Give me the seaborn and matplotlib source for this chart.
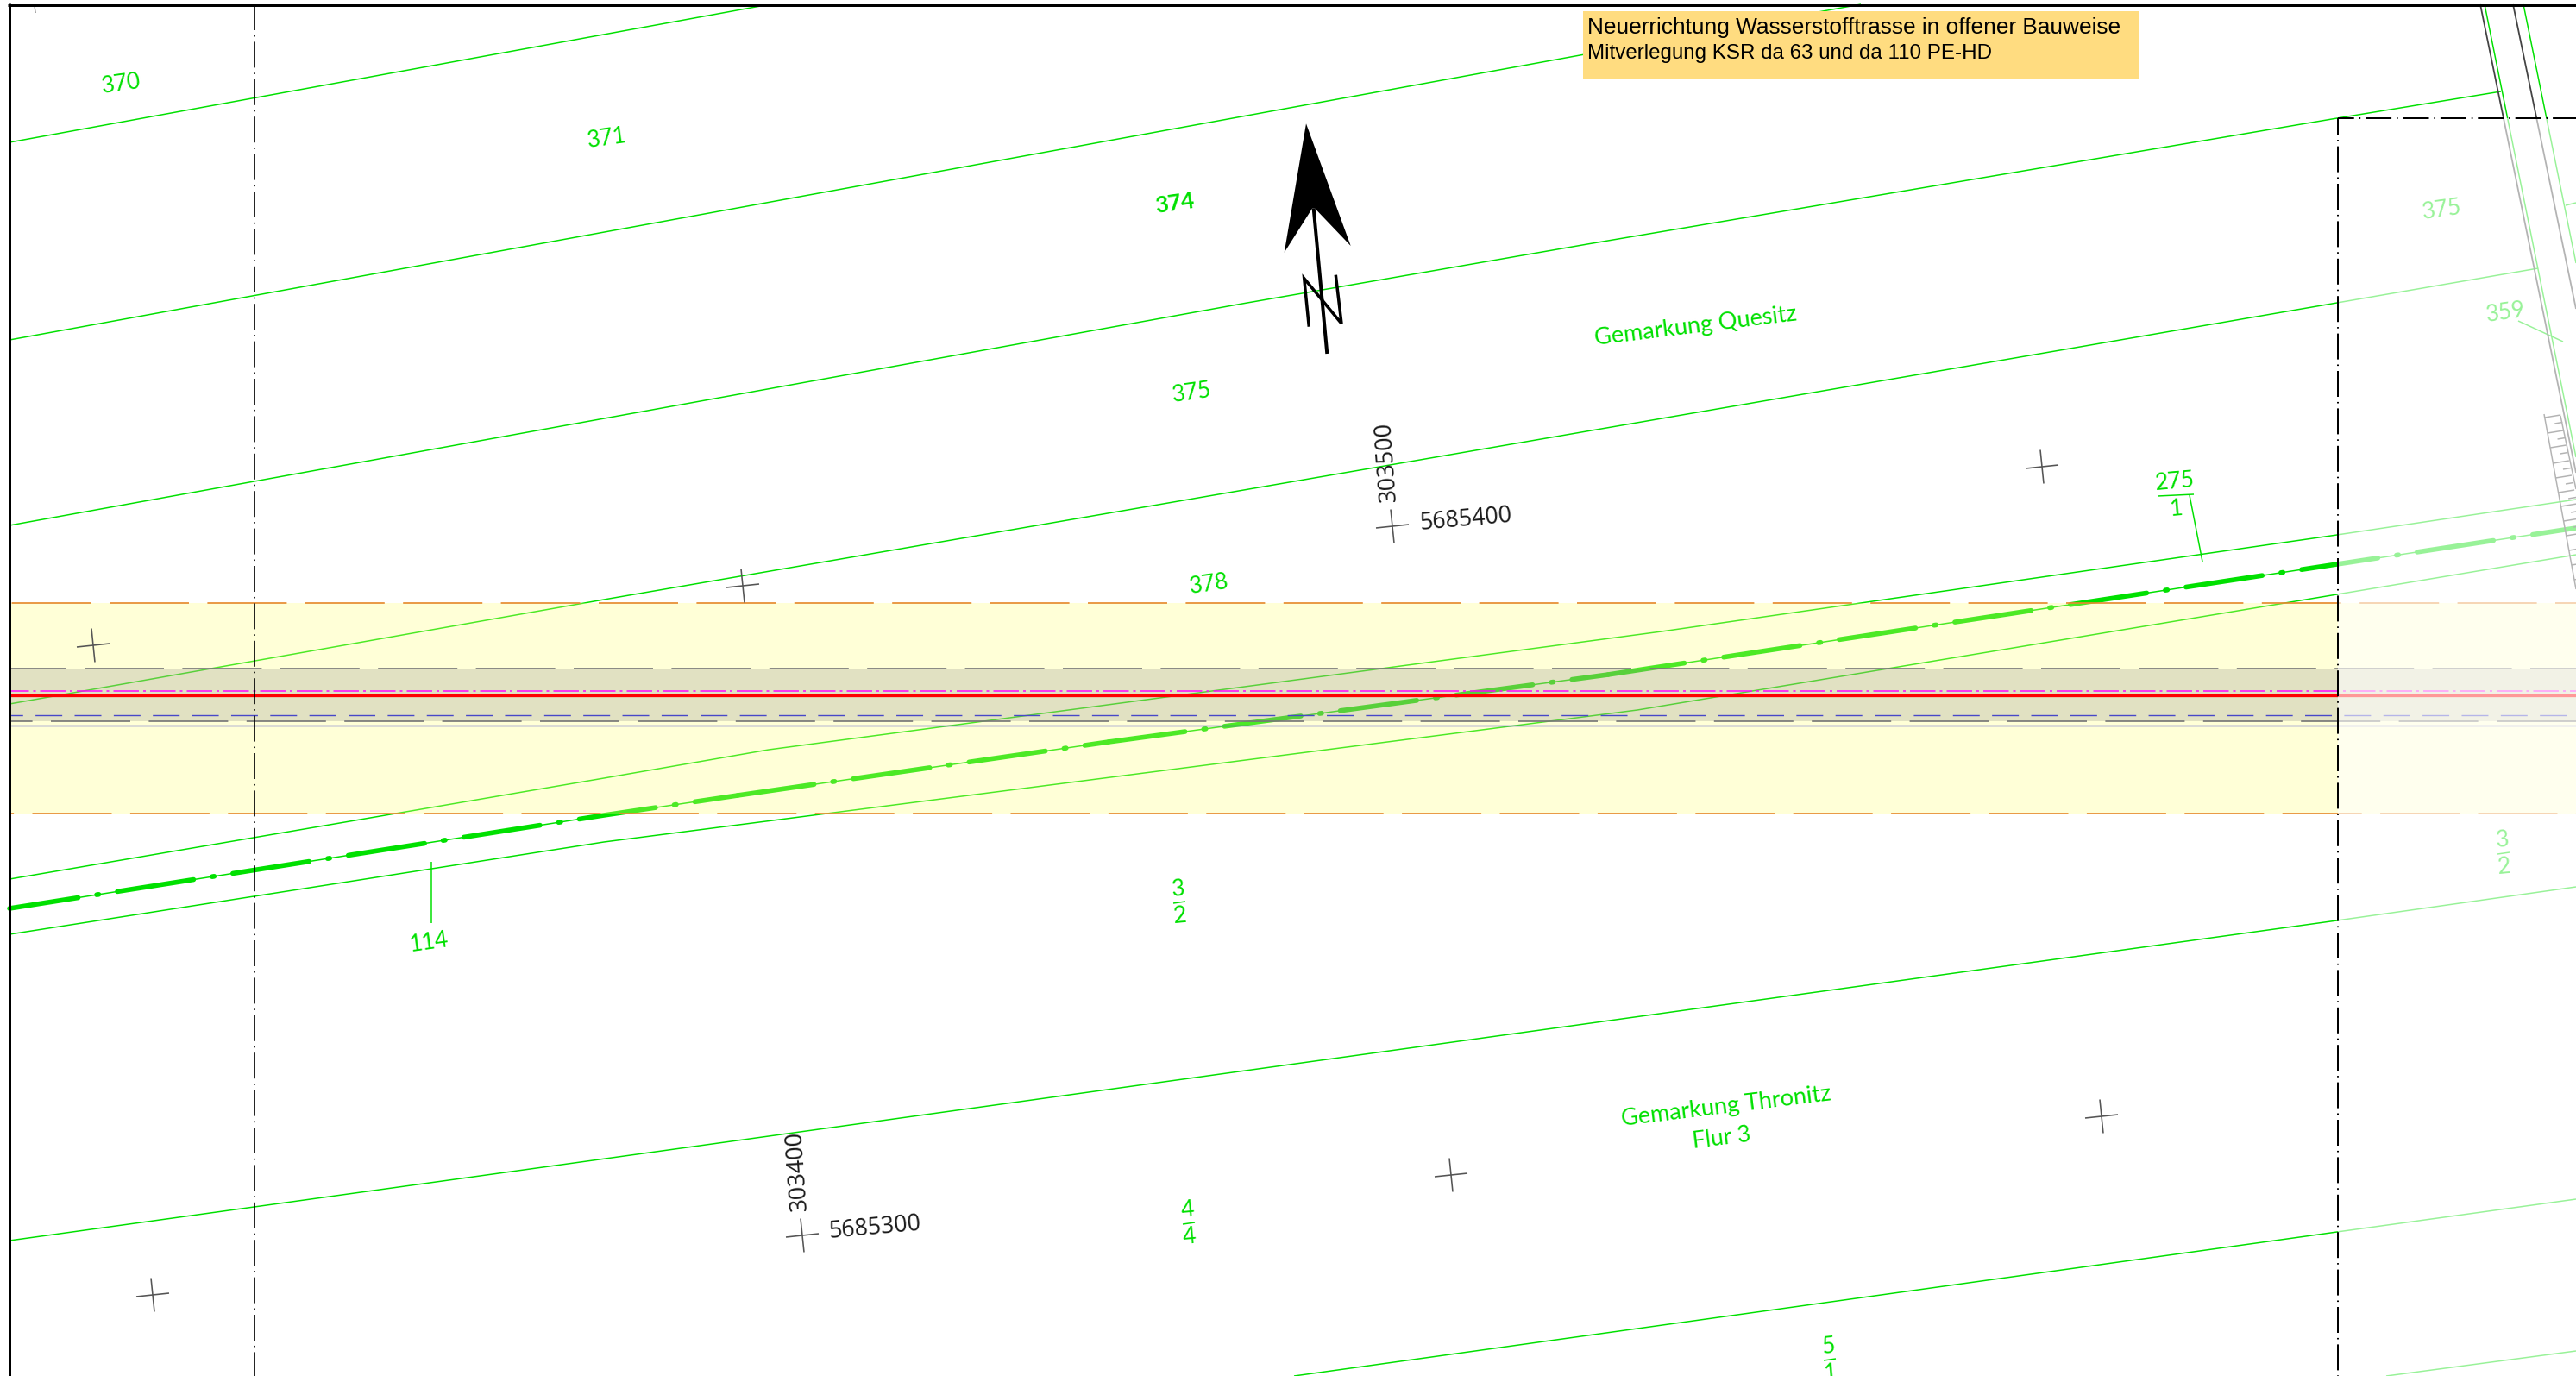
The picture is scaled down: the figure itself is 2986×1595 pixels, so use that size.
import matplotlib
matplotlib.use("Agg")
import matplotlib.pyplot as plt
import seaborn as sns

WIDTH = 2986
HEIGHT = 1595

# Flurstuecksgrenzen (x, y)
parcel_1_x = [11, 887]
parcel_1_y = [165, 6]
parcel_2_x = [11, 2157]
parcel_2_y = [394, 5]
parcel_3_x = [11, 1440, 1840, 2709, 2899]
parcel_3_y = [609, 352, 283, 137, 106]
parcel_4_x = [11, 700, 2709, 2942]
parcel_4_y = [816, 695, 351, 311]
parcel_5_x = [11, 2709, 2986]
parcel_5_y = [1438, 1067, 1028]
parcel_6_x = [1500, 2709, 2986]
parcel_6_y = [1595, 1428, 1390]
parcel_7_x = [2766, 2986]
parcel_7_y = [1595, 1566]

# Trasse mit Arbeitsstreifen
strip_up_x = [11, 700, 891, 1926, 2709, 2986]
strip_up_y = [1019, 902, 869, 732, 620, 579]
strip_low_x = [11, 700, 1898, 2709, 2986]
strip_low_y = [1083, 976, 823, 689, 643]
axis_a_x = [11, 700, 855]
axis_a_y = [1053, 945, 922]
axis_b_x = [855, 1285]
axis_b_y = [922, 860]
axis_c_x = [1285, 1864]
axis_c_y = [860, 782]
axis_d_x = [1864, 2709, 2986]
axis_d_y = [782, 654, 612]

# Strassenrand rechts
road_gray_1_x = [2875, 2986]
road_gray_1_y = [5, 548]
road_gray_2_x = [2913, 2986]
road_gray_2_y = [5, 358]
road_green_1_x = [2880, 2986]
road_green_1_y = [5, 530]
road_green_2_x = [2925, 2986]
road_green_2_y = [5, 305]
road_tick_x = [2974, 2986]
road_tick_y = [238, 235]

# Boeschung
ladder_left_x = [2949, 2986]
ladder_left_y = [480, 683]
ladder_right_x = [2968, 2986]
ladder_right_y = [482, 567]
ladder_rungs_y = [484, 502, 519, 537, 554, 571, 587, 604, 621, 638, 655, 672]

# Leitungen in y-Richtung (Zeilen)
band_y = [699, 943]
pipe_band_y = [775, 836]
orange_top_y = 699
orange_bottom_y = 943
gray_top_y = 775
gray_bottom_y = 836
magenta_y = 801
red_y = 806
blue_dash_y = 829
blue_y = 841

# Blattschnitt
sheet_left_x = 294.5
sheet_right_x = 2709.5
sheet_top_y = 137

# Kreuze
cross_x = [108, 861, 1614, 2367, 930, 1682, 2436, 177]
cross_y = [748, 679, 610, 541, 1432, 1362, 1294, 1501]

# Hinweislinien
leader_114_x = [500, 500]
leader_114_y = [999, 1070]
leader_275_x = [2538, 2553]
leader_275_y = [574, 651]
leader_359_x = [2919, 2971]
leader_359_y = [372, 396]

# Nordpfeil
arrow_x = [1514, 1565.7, 1524.3, 1521, 1488.7]
arrow_y = [143.3, 285, 241.7, 241.7, 292.7]
shaft_x = [1522.7, 1538.3]
shaft_y = [241.7, 410]
north_x = [1517.3, 1511.7, 1555, 1548.3]
north_y = [378.7, 322.7, 375, 318.7]

# Beschriftung
green_labels = ["370", "371", "375", "378", "114", "375", "359"]
green_label_x = [141, 704, 1382, 1402, 498, 2831, 2905]
green_label_y = [97, 160, 455, 677, 1092, 243, 362]
fractions = [("3", "2"), ("4", "4"), ("5", "1"), ("275", "1"), ("3", "2")]
fraction_x = [1367, 1378, 2121, 2522, 2902]
fraction_y = [1046, 1418, 1576, 574, 989]
note_lines = ["Neuerrichtung Wasserstofftrasse in offener Bauweise",
              "Mitverlegung KSR da 63 und da 110 PE-HD"]

GREEN = "#00e000"
CROSS = "#555555"
DPX = 0.72  # 1 px in pt bei dpi=100

sns.set_theme(style="white")
plt.rcParams["font.family"] = ["Lato", "DejaVu Sans"]
plt.rcParams["lines.scale_dashes"] = False
plt.rcParams["lines.solid_capstyle"] = "butt"
plt.rcParams["lines.dash_capstyle"] = "butt"

fig = plt.figure(figsize=(WIDTH / 100, HEIGHT / 100), dpi=100)
ax = fig.add_axes([0, 0, 1, 1])
ax.set_xlim(0, WIDTH)
ax.set_ylim(HEIGHT, 0)
ax.autoscale(False)
ax.set_axis_off()


def line(xs, ys, color=GREEN, w=1.5, dash=None, offset=0, z=2, **kw):
    style = "-"
    if dash is not None:
        style = ((offset % sum(dash)) * DPX, [d * DPX for d in dash])
    sns.lineplot(x=xs, y=ys, ax=ax, color=color, linewidth=w * DPX, linestyle=style,
                 estimator=None, sort=False, errorbar=None, legend=False, zorder=z, **kw)


def label(x, y, s, color=GREEN, size=19, rot=8, z=6, **kw):
    ax.text(x, y, s, color=color, fontsize=size, rotation=rot, rotation_mode="anchor",
            ha="center", va="center", zorder=z, **kw)


for xs, ys in [(parcel_1_x, parcel_1_y), (parcel_2_x, parcel_2_y), (parcel_3_x, parcel_3_y),
               (parcel_4_x, parcel_4_y), (parcel_5_x, parcel_5_y), (parcel_6_x, parcel_6_y),
               (parcel_7_x, parcel_7_y), (strip_up_x, strip_up_y), (strip_low_x, strip_low_y),
               (road_green_1_x, road_green_1_y), (road_green_2_x, road_green_2_y),
               (road_tick_x, road_tick_y), (leader_114_x, leader_114_y),
               (leader_275_x, leader_275_y), (leader_359_x, leader_359_y)]:
    line(xs, ys)

# Trassenachse: duenne Linie, darueber Strich-Punkt
axis_dash = [89.5, 21.75, 2.5, 21.75]
for xs, ys, off in [(axis_a_x, axis_a_y, 9), (axis_b_x, axis_b_y, 0),
                    (axis_c_x, axis_c_y, 0), (axis_d_x, axis_d_y, 0)]:
    line(xs, ys, w=1.5)
    line(xs, ys, w=5.6, dash=axis_dash, offset=off, dash_capstyle="round")

# Schutzstreifen ueber den Gruenlinien
ax.fill_between([11, WIDTH], band_y[0], band_y[1], color="#ffff7d", alpha=0.3, lw=0, zorder=3)
ax.fill_between([11, WIDTH], pipe_band_y[0], pipe_band_y[1], color="#808080", alpha=0.236, lw=0, zorder=3)

long_dash = [92, 21.4]
for y, start, col in [(orange_top_y, 127, "#e68a2e"), (orange_bottom_y, 37.5, "#e68a2e"),
                      (gray_top_y, 98, "#777777"), (gray_bottom_y, 59, "#777777")]:
    line([11, WIDTH], [y, y], color=col, w=1.7, dash=long_dash, offset=11 - start, z=4)
line([11, WIDTH], [magenta_y, magenta_y], color="#ff00ff", w=1.5, dash=[29.5, 5, 3, 5], offset=11 - 2554, z=4)
line([11, WIDTH], [red_y, red_y], color="#ff0000", w=3.3, z=4)
line([11, WIDTH], [blue_dash_y, blue_dash_y], color="#4848c8", w=1.4, dash=[31, 14.36], offset=11 - 86, z=4)
line([11, WIDTH], [blue_y, blue_y], color="#4848c8", w=1.4, z=4)

# Strasse und Boeschung in dunklem Grau, ausserhalb des Blatts verblasst
line(road_gray_1_x, road_gray_1_y, color="#444444", w=1.8)
line(road_gray_2_x, road_gray_2_y, color="#444444", w=1.8)
line(ladder_left_x, ladder_left_y, color="#444444", w=1.5)
line(ladder_right_x, ladder_right_y, color="#444444", w=1.5)
rail_slope = (ladder_left_x[1] - ladder_left_x[0]) / (ladder_left_y[1] - ladder_left_y[0])
for y in ladder_rungs_y:
    x = ladder_left_x[0] + (y - ladder_left_y[0]) * rail_slope
    line([x, x + 18.5], [y, y - 3], color="#444444", w=1.5)
    mid = y + 8.5
    xm = ladder_left_x[0] + (mid - ladder_left_y[0]) * rail_slope
    line([xm + 10, xm + 19], [mid - 1.5, mid - 3], color="#444444", w=1.5)

# Koordinatenkreuze
for cx, cy in zip(cross_x, cross_y):
    line([cx - 19, cx + 19], [cy + 2, cy - 2], color=CROSS, w=1.6, z=5)
    line([cx - 2, cx + 2], [cy - 19.5, cy + 19.5], color=CROSS, w=1.6, z=5)
line([40, 41], [6, 15], color=CROSS, w=1.2, z=5)

# Blattschnitt links
dd = [30, 5.9, 1.6, 5.9]
line([sheet_left_x, sheet_left_x], [5, HEIGHT], color="black", w=1.7, dash=dd, offset=5 - 48.4, z=6)

# Nordpfeil
ax.fill(arrow_x, arrow_y, color="black", lw=0, zorder=6)
line(shaft_x, shaft_y, color="black", w=4, z=6)
line(north_x, north_y, color="black", w=3.5, z=6, solid_joinstyle="miter")

# Text
for s, x, y in zip(green_labels, green_label_x, green_label_y):
    label(x, y, s)
label(1362, 236, "374", weight="bold")
for (top, bottom), x, y in zip(fractions, fraction_x, fraction_y):
    half = 7 if len(top) == 1 else 21
    label(x - 1, y - 15, top, rot=5)
    label(x + 1, y + 16, bottom, rot=5)
    line([x - half, x + half], [y + 1, y - 1], w=1.5)

label(1966, 378, "Gemarkung Quesitz", size=19.5, rot=7)
label(2001, 1283, "Gemarkung Thronitz", size=19.5, rot=7)
label(1996, 1319, "Flur 3", size=19, rot=7)
label(1608, 535, "303500", color="#1a1a1a", size=19.5, rot=94, family="Open Sans")
label(1699, 602, "5685400", color="#1a1a1a", size=19.3, rot=5, family="Open Sans")
label(925, 1357, "303400", color="#1a1a1a", size=19.5, rot=94, family="Open Sans")
label(1014, 1423, "5685300", color="#1a1a1a", size=19.3, rot=5, family="Open Sans")

# Verblassung rechts unterhalb der Blattecke
ax.fill_between([sheet_right_x, WIDTH], sheet_top_y, HEIGHT, color="white", alpha=0.6, lw=0, zorder=7)

# Blattschnitt rechts
line([sheet_right_x, sheet_right_x], [sheet_top_y, HEIGHT], color="black", w=2, dash=dd,
     offset=sheet_top_y - (640.3 + 6.7), z=8)
line([sheet_right_x, WIDTH], [sheet_top_y, sheet_top_y], color="black", w=2, dash=dd,
     offset=sheet_right_x - (2778.3 + 6.7), z=8)

# Rahmen
line([10.5, 10.5], [4, HEIGHT], color="black", w=3, z=9)
line([9, WIDTH], [5.5, 5.5], color="black", w=3, z=9)

# Hinweis
ax.fill_between([1835, 2479.5], 13, 90.7, color="#ffdc80", lw=0, zorder=9)
ax.text(1840, 32, note_lines[0], fontsize=18.9, family="Liberation Sans", va="center", ha="left", zorder=10, color="black")
ax.text(1840, 62, note_lines[1], fontsize=17.4, family="Liberation Sans", va="center", ha="left", zorder=10, color="black")

fig.savefig("out.png", dpi=100)
